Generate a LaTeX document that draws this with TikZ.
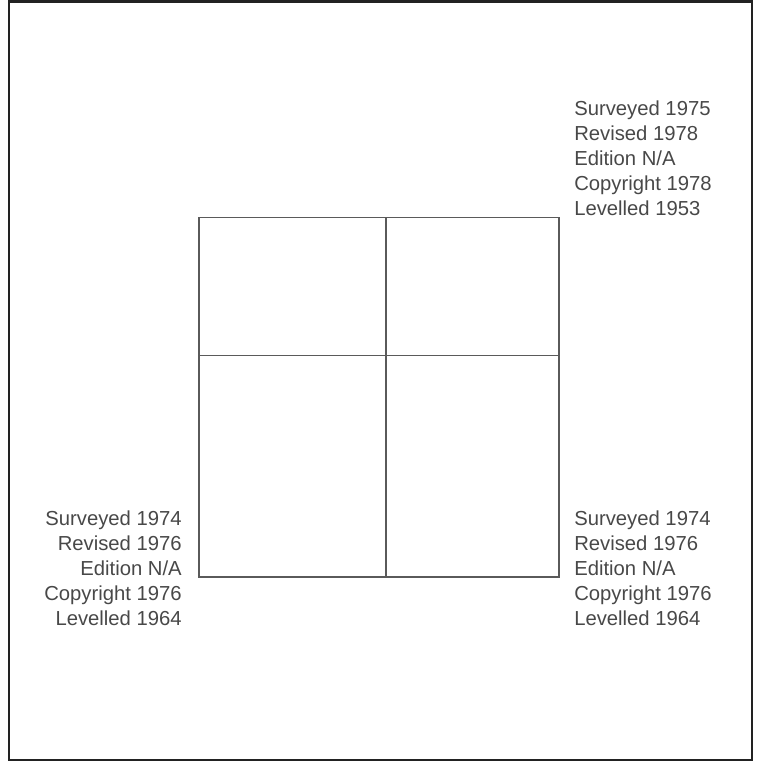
\documentclass[tikz,border=0pt]{standalone}
\usepackage{fontspec}
\setmainfont{Liberation Sans}
\usetikzlibrary{positioning}
\definecolor{framedark}{RGB}{34,34,34}
\definecolor{sheetgrey}{RGB}{90,90,90}
\definecolor{notegrey}{RGB}{72,72,72}

\begin{document}
\begin{tikzpicture}[x=0.75pt,y=-0.75pt]
\tikzstyle{sheet}=[draw=sheetgrey,line width=1.1pt]
\tikzstyle{note}=[inner sep=0pt,text=notegrey,font=\fontsize{15.2}{18.75}\selectfont]
\useasboundingbox (0,0) rectangle (757,765);
\draw[framedark,line width=1.9pt] (9,1.5) rectangle (752,760);
% map sheets
\coordinate (nw) at (199,217.5);
\coordinate (mid) at (386,355.5);
\coordinate (se) at (559,577);
\draw[sheet] (nw) rectangle (mid);
\draw[sheet] (mid|-nw) rectangle (se|-mid);
\draw[sheet] (nw|-mid) rectangle (mid|-se);
\draw[sheet] (mid) rectangle (se);
% sheet notes (base = last line)
\node[note,align=left,anchor=base west] (ne note) at (574,215.7) {Surveyed 1975\\Revised 1978\\Edition N/A\\Copyright 1978\\Levelled 1953};
\node[note,align=right,anchor=base east] (sw note) at (182,625) {Surveyed 1974\\Revised 1976\\Edition N/A\\Copyright 1976\\Levelled 1964};
\node[note,align=left,anchor=base west] (se note) at (574,625) {Surveyed 1974\\Revised 1976\\Edition N/A\\Copyright 1976\\Levelled 1964};
\end{tikzpicture}
\end{document}
